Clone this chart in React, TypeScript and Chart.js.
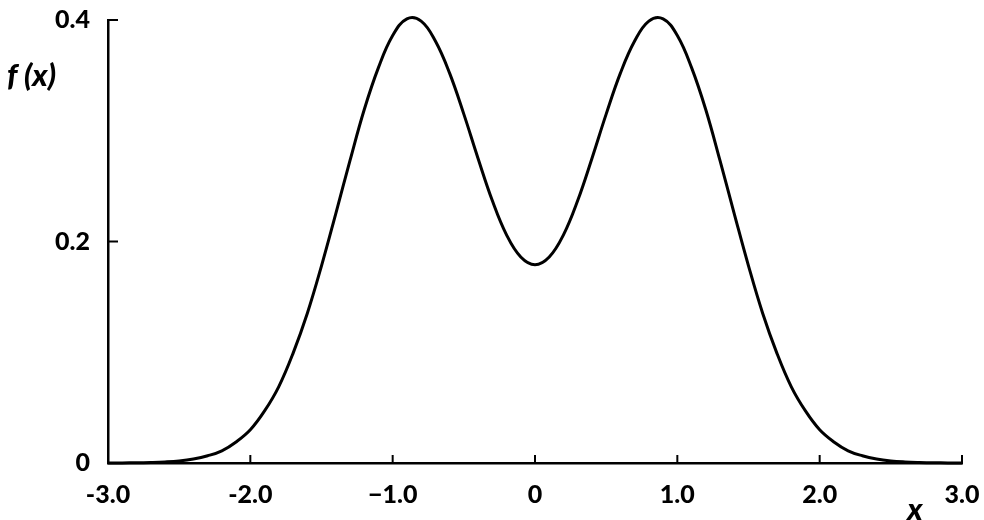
import React, { useEffect, useRef } from "react";
import { Chart, registerables } from "chart.js";

Chart.register(...registerables);

// Sample positions along x (at 0.1 steps)
const xValues = [
  -3.0, -2.9, -2.8, -2.7, -2.6, -2.5, -2.4, -2.3, -2.2, -2.1,
  -2.0, -1.9, -1.8, -1.7, -1.6, -1.5, -1.4, -1.3, -1.2, -1.1,
  -1.0, -0.9, -0.8, -0.7, -0.6, -0.5, -0.4, -0.3, -0.2, -0.1,
  0.0,
  0.1, 0.2, 0.3, 0.4, 0.5, 0.6, 0.7, 0.8, 0.9, 1.0,
  1.1, 1.2, 1.3, 1.4, 1.5, 1.6, 1.7, 1.8, 1.9, 2.0,
  2.1, 2.2, 2.3, 2.4, 2.5, 2.6, 2.7, 2.8, 2.9, 3.0,
];

// f(x) values
const fValues = [
  0, 0.0001, 0.0002, 0.0005, 0.001, 0.0019, 0.0036, 0.0065, 0.011, 0.019,
  0.03, 0.047, 0.069, 0.099, 0.135, 0.178, 0.225, 0.273, 0.319, 0.357,
  0.386, 0.401, 0.399, 0.381, 0.352, 0.315, 0.275, 0.237, 0.206, 0.186,
  0.179,
  0.186, 0.206, 0.237, 0.275, 0.315, 0.352, 0.381, 0.399, 0.401, 0.386,
  0.357, 0.319, 0.273, 0.225, 0.178, 0.135, 0.099, 0.069, 0.047, 0.03,
  0.019, 0.011, 0.0065, 0.0036, 0.0019, 0.001, 0.0005, 0.0002, 0.0001, 0,
];

const xTickValues = [-3, -2, -1, 0, 1, 2, 3];
const xTickLabels = ["-3.0", "-2.0", "\u22121.0", "0", "1.0", "2.0", "3.0"];
const yTickValues = [0, 0.2, 0.4];
const yTickLabels = ["0", "0.2", "0.4"];
const yAxisTitle = "f (x)";
const xAxisTitle = "x";

const tickFont = { family: "Lato", size: 25, weight: "900" as any };

const innerTicksPlugin = {
  id: "innerTicks",
  afterDraw(chart: any) {
    const { ctx, chartArea } = chart;
    const xs = chart.scales.x;
    const ys = chart.scales.y;
    ctx.save();
    ctx.strokeStyle = "#000";
    ctx.lineWidth = 2;
    ctx.lineCap = "butt";
    xTickValues.forEach((v) => {
      if (v === xTickValues[0]) return;
      const px = xs.getPixelForValue(v);
      ctx.beginPath();
      ctx.moveTo(px, chartArea.bottom);
      ctx.lineTo(px, chartArea.bottom - 8);
      ctx.stroke();
    });
    yTickValues.forEach((v) => {
      if (v === yTickValues[0]) return;
      const py = ys.getPixelForValue(v);
      ctx.beginPath();
      ctx.moveTo(chartArea.left, py);
      ctx.lineTo(chartArea.left + 10, py);
      ctx.stroke();
    });
    // axis titles
    ctx.fillStyle = "#000";
    ctx.font = "italic 900 31px Lato";
    ctx.textBaseline = "middle";
    ctx.textAlign = "left";
    ctx.fillText(yAxisTitle, 7, ys.getPixelForValue(0.349));
    ctx.textAlign = "center";
    ctx.fillText(xAxisTitle, xs.getPixelForValue(2.67), chart.height - 10);
    ctx.restore();
  },
};

export default function App() {
  const canvasRef = useRef<HTMLCanvasElement | null>(null);

  useEffect(() => {
    const canvas = canvasRef.current;
    if (!canvas) return;
    const chart = new Chart(canvas, {
      type: "line",
      data: {
        datasets: [
          {
            data: xValues.map((x, i) => ({ x, y: fValues[i] })),
            borderColor: "#000",
            borderWidth: 3,
            pointRadius: 0,
            tension: 0.4,
            fill: false,
            clip: false as any,
          },
        ],
      },
      options: {
        animation: false,
        responsive: false,
        layout: { padding: { top: 20, right: 22, left: 0, bottom: 0 } },
        plugins: {
          legend: { display: false },
          tooltip: { enabled: false },
        },
        scales: {
          x: {
            type: "linear",
            min: -3,
            max: 3,
            afterBuildTicks: (s: any) => {
              s.ticks = xTickValues.map((v) => ({ value: v }));
            },
            ticks: {
              callback: (_v: any, i: number) => xTickLabels[i],
              font: tickFont,
              color: "#000",
              padding: 9,
              maxRotation: 0,
              autoSkip: false,
            },
            grid: { display: false },
            border: { display: true, color: "#000", width: 2.5 },
            afterFit: (s: any) => {
              s.height = 57;
              s.paddingLeft = 0;
              s.paddingRight = 0;
            },
          },
          y: {
            type: "linear",
            min: 0,
            max: 0.4,
            afterBuildTicks: (s: any) => {
              s.ticks = yTickValues.map((v) => ({ value: v }));
            },
            ticks: {
              callback: (_v: any, i: number) => yTickLabels[i],
              font: tickFont,
              color: "#000",
              padding: 10,
              autoSkip: false,
            },
            grid: { display: false },
            border: { display: true, color: "#000", width: 2.5 },
            afterFit: (s: any) => {
              s.width = 108;
              s.paddingTop = 0;
              s.paddingBottom = 0;
            },
          },
        },
      },
      plugins: [innerTicksPlugin],
    });
    return () => chart.destroy();
  }, []);

  return (
    <div style={{ position: "fixed", left: 0, top: 0, width: 984, height: 520, background: "#fff" }}>
      <canvas ref={canvasRef} width={984} height={520} />
    </div>
  );
}
